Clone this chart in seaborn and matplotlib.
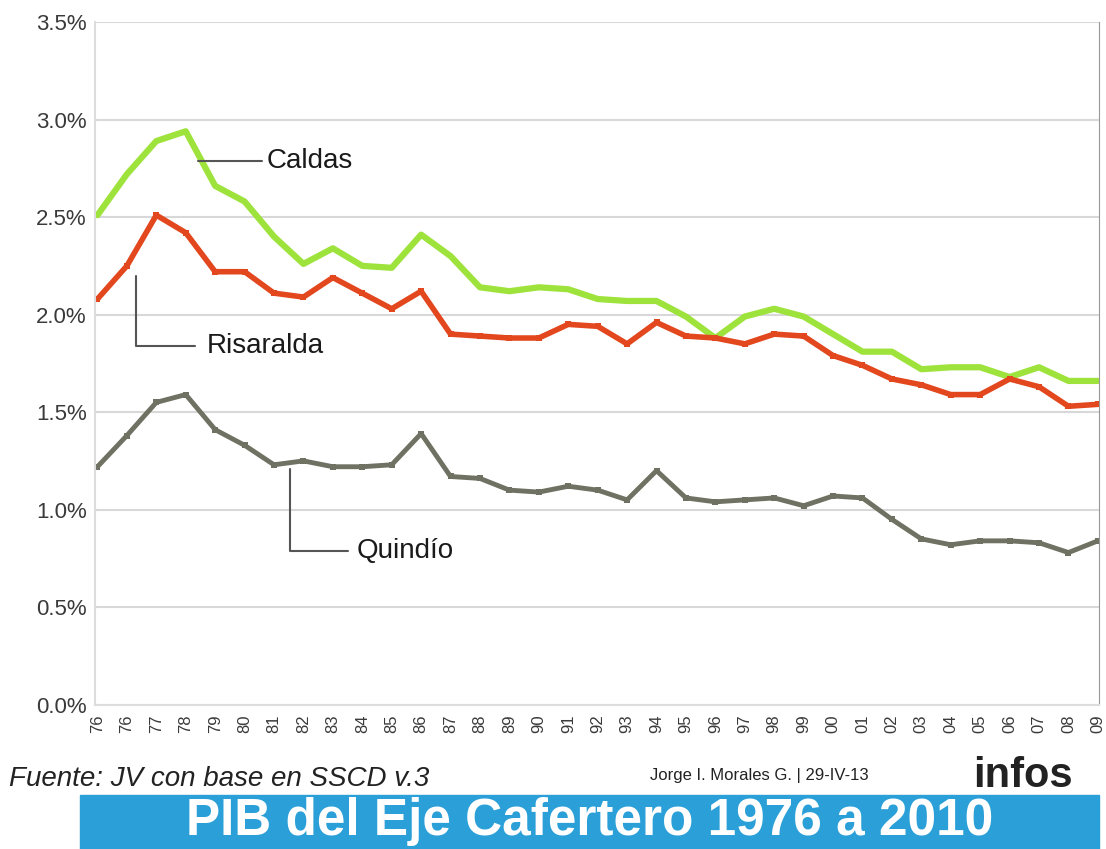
import numpy as np
import pandas as pd
import matplotlib.pyplot as plt
import matplotlib.patches as mpatches
import seaborn as sns

# Years as printed on the chart (first label repeats in the original)
years = ["76", "76", "77", "78", "79", "80", "81", "82", "83", "84", "85", "86",
         "87", "88", "89", "90", "91", "92", "93", "94", "95", "96", "97", "98",
         "99", "00", "01", "02", "03", "04", "05", "06", "07", "08", "09"]

# Share of national GDP (%)
caldas = [2.51, 2.72, 2.89, 2.94, 2.66, 2.58, 2.40, 2.26, 2.34, 2.25, 2.24, 2.41,
          2.30, 2.14, 2.12, 2.14, 2.13, 2.08, 2.07, 2.07, 1.99, 1.88, 1.99, 2.03,
          1.99, 1.90, 1.81, 1.81, 1.72, 1.73, 1.73, 1.68, 1.73, 1.66, 1.66]
risaralda = [2.08, 2.25, 2.51, 2.42, 2.22, 2.22, 2.11, 2.09, 2.19, 2.11, 2.03, 2.12,
             1.90, 1.89, 1.88, 1.88, 1.95, 1.94, 1.85, 1.96, 1.89, 1.88, 1.85, 1.90,
             1.89, 1.79, 1.74, 1.67, 1.64, 1.59, 1.59, 1.67, 1.63, 1.53, 1.54]
quindio = [1.22, 1.38, 1.55, 1.59, 1.41, 1.33, 1.23, 1.25, 1.22, 1.22, 1.23, 1.39,
           1.17, 1.16, 1.10, 1.09, 1.12, 1.10, 1.05, 1.20, 1.06, 1.04, 1.05, 1.06,
           1.02, 1.07, 1.06, 0.95, 0.85, 0.82, 0.84, 0.84, 0.83, 0.78, 0.84]

pos = np.arange(len(years))
df = pd.DataFrame({"pos": pos, "Caldas": caldas, "Risaralda": risaralda, "Quindío": quindio})

sns.set_style("white")
plt.rcParams['font.family'] = ['Liberation Sans', 'DejaVu Sans']

fig = plt.figure(figsize=(11.06, 8.49), dpi=100)
ax = fig.add_axes([0.086, 0.170, 0.908, 0.804])

green = "#9ee23c"
red = "#e2471e"
gray = "#6f7163"

sns.lineplot(data=df, x="pos", y="Caldas", ax=ax, color=green, linewidth=4.5)
sns.lineplot(data=df, x="pos", y="Risaralda", ax=ax, color=red, linewidth=4,
             marker="s", markersize=5, markeredgewidth=0)
sns.lineplot(data=df, x="pos", y="Quindío", ax=ax, color=gray, linewidth=3.5,
             marker="s", markersize=4.5, markeredgewidth=0)

ax.set_xlim(-0.08, 34.05)
ax.set_ylim(0, 3.5)
ax.set_yticks(np.arange(0, 3.51, 0.5))
ax.set_yticklabels([f"{v:.1f}%" for v in np.arange(0, 3.51, 0.5)], fontsize=16, color="#3a3a3a")
ax.set_xticks(pos)
ax.set_xticklabels(years, rotation=90, fontsize=12, color="#3a3a3a")
ax.tick_params(axis="x", length=5, color="#cccccc", pad=2)
ax.tick_params(axis="y", length=0, pad=6)
ax.set_xlabel("")
ax.set_ylabel("")
ax.grid(axis="y", color="#d8d8d8", linewidth=1.5)
ax.spines["top"].set_visible(False)
ax.spines["left"].set_color("#dddddd")
ax.spines["bottom"].set_color("#dddddd")
ax.spines["right"].set_color("#999999")
ax.spines["left"].set_linewidth(1.5)
ax.spines["bottom"].set_linewidth(1.5)

# leader lines and labels
lc = "#555555"
ax.plot([3.4, 5.6], [2.79, 2.79], color=lc, linewidth=1.5)
ax.text(5.75, 2.79, "Caldas", fontsize=20, va="center", ha="left", color="#1a1a1a")
ax.plot([1.3, 1.3, 3.3], [2.2, 1.84, 1.84], color=lc, linewidth=1.5)
ax.text(3.7, 1.84, "Risaralda", fontsize=20, va="center", ha="left", color="#1a1a1a")
ax.plot([6.55, 6.55, 8.5], [1.21, 0.79, 0.79], color=lc, linewidth=1.5)
ax.text(8.8, 0.79, "Quindío", fontsize=20, va="center", ha="left", color="#1a1a1a")

# footer
fig.text(0.008, 0.082, "Fuente: JV con base en SSCD v.3", fontsize=20, style="italic",
         color="#222222", va="center", ha="left")
fig.text(0.588, 0.087, "Jorge I. Morales G. | 29-IV-13", fontsize=12, color="#222222",
         va="center", ha="left")
fig.text(0.880, 0.086, "infos", fontsize=30, fontweight="bold", color="#222222",
         va="center", ha="left")
banner = mpatches.Rectangle((0.072, 0.0), 0.922, 0.064, transform=fig.transFigure,
                            color="#2ba0d8", zorder=0)
fig.patches.append(banner)
fig.text(0.533, 0.016, "PIB del Eje Cafertero 1976 a 2010", fontsize=37, fontweight="bold",
         color="white", va="baseline", ha="center")

plt.savefig("out.png", dpi=100)
plt.close()
